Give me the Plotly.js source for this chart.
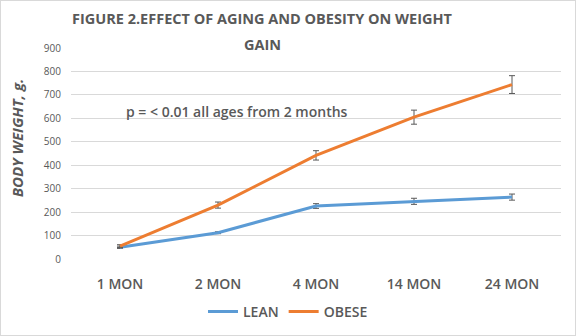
<!DOCTYPE html>
<html><head><meta charset="utf-8">
<script src="https://cdn.plot.ly/plotly-3.0.1.min.js"></script>
<style>body{margin:0;padding:0;background:#fff}#wrap{position:relative;width:576px;height:336px}#frame{position:absolute;left:0;top:0;width:574px;height:334px;border:1px solid #d9d9d9;pointer-events:none}</style>
</head><body><div id="wrap"><div id="chart" style="width:576px;height:336px"></div><div id="frame"></div></div>
<script>
const categories = ["1 MON", "2 MON", "4 MON", "14 MON", "24 MON"];
const leanValues = [50, 112, 226, 246, 264];
const leanErrors = [5, 4, 10, 13, 13];
const obeseValues = [55, 230, 442, 605, 744];
const obeseErrors = [6, 13, 20, 30, 38];
const yTicks = [0, 100, 200, 300, 400, 500, 600, 700, 800, 900];

const font = "Open Sans, sans-serif";
const grey = "#595959";
const traces = [
  {x: categories, y: leanValues, name: "LEAN", type: "scatter", mode: "lines",
   line: {color: "#5B9BD5", width: 3},
   error_y: {type: "data", array: leanErrors, visible: true, color: grey, thickness: 1, width: 3}},
  {x: categories, y: obeseValues, name: "OBESE", type: "scatter", mode: "lines",
   line: {color: "#ED7D31", width: 3},
   error_y: {type: "data", array: obeseErrors, visible: true, color: grey, thickness: 1, width: 3}}
];
const layout = {
  width: 576, height: 336,
  margin: {l: 71, r: 15, t: 48, b: 77, autoexpand: false},
  paper_bgcolor: "#fff", plot_bgcolor: "#fff",
  showlegend: true,
  legend: {orientation: "h", x: 0.5, xref: "container", xanchor: "center",
           y: 0.072, yref: "container", yanchor: "middle",
           font: {family: font, size: 14, color: grey, weight: 600}, tracegroupgap: 0},
  xaxis: {type: "category", range: [-0.5, 4.5], showgrid: false, zeroline: false, showline: false, ticks: "",
          ticklabelstandoff: 15,
          tickfont: {family: font, size: 14, color: grey, weight: 600}, fixedrange: true, automargin: false},
  yaxis: {range: [0, 900], tickvals: yTicks, showgrid: true, gridcolor: "#d9d9d9", gridwidth: 1,
          zeroline: false, showline: false, ticks: "", ticklen: 0, automargin: false,
          ticklabelstandoff: 9,
          tickfont: {family: font, size: 10, color: grey}, fixedrange: true},
  annotations: [
    {text: "FIGURE 2.EFFECT OF AGING AND OBESITY ON WEIGHT", xref: "paper", yref: "paper",
     x: 0.39, y: 1.142, xanchor: "center", yanchor: "middle", showarrow: false,
     font: {family: font, size: 14.5, color: grey, weight: 700}},
    {text: "GAIN", xref: "paper", yref: "paper",
     x: 0.39, y: 1.017, xanchor: "center", yanchor: "middle", showarrow: false,
     font: {family: font, size: 14.5, color: grey, weight: 700}},
    {text: "<i>BODY WEIGHT, g.</i>", xref: "paper", yref: "paper", x: -0.11, y: 0.573,
     xanchor: "center", yanchor: "middle", textangle: -90, showarrow: false,
     font: {family: font, size: 15, color: grey, weight: 700}},
    {text: "p = < 0.01 all ages from 2 months", xref: "paper", yref: "paper", x: 0.108, y: 0.697,
     xanchor: "left", yanchor: "middle", showarrow: false,
     font: {family: font, size: 14, color: grey, weight: 600}}
  ]
};
Plotly.newPlot("chart", traces, layout, {displayModeBar: false, staticPlot: true});
</script></body></html>
